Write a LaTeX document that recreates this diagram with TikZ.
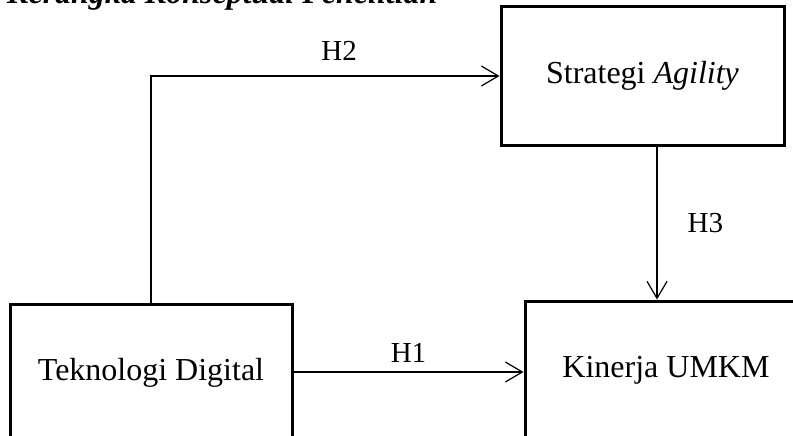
\documentclass[tikz,border=0pt]{standalone}
\usepackage{fontspec}
\setmainfont{Liberation Serif}
\usetikzlibrary{positioning, arrows.meta}

\tikzset{
  varbox/.style={draw, line width=3pt, minimum width=282pt, minimum height=138pt, inner sep=0pt, font=\fontsize{32}{38}\selectfont},
  hyparrow/.style={line width=1.2pt, -{Straight Barb[length=17pt, width=20pt, line width=1.2pt]}},
  hyplabel/.style={inner sep=0pt, font=\fontsize{29}{34}\selectfont}
}

\begin{document}
\begin{tikzpicture}[x=1pt, y=-1pt]
\path[use as bounding box, clip] (0,0) rectangle (793,436);

\node (title) [anchor=base west, inner sep=0pt, font=\fontsize{32}{38}\selectfont\bfseries\itshape] at (7,4) {Kerangka Konseptual Penelitian};

\node (tek) [varbox] at (151,373) {Teknologi Digital};
\node (kin) [varbox, right=230pt of tek, yshift=3pt] {Kinerja UMKM};
\node (str) [varbox, minimum width=283pt] at (642.5,76) {Strategi \textit{Agility}};

\coordinate (h3x) at (657,0);
\coordinate (h1y) at (0,372);

% hipotesis
\draw[hyparrow] (tek.north) |- (str.west) node[hyplabel, pos=0.77, above=15pt] {H2};
\draw[hyparrow] (str.south -| h3x) -- (kin.north -| h3x) node[hyplabel, midway, right=30pt] {H3};
\draw[hyparrow] (tek.east |- h1y) -- (kin.west |- h1y) node[hyplabel, midway, above=9pt] {H1};

\end{tikzpicture}
\end{document}
